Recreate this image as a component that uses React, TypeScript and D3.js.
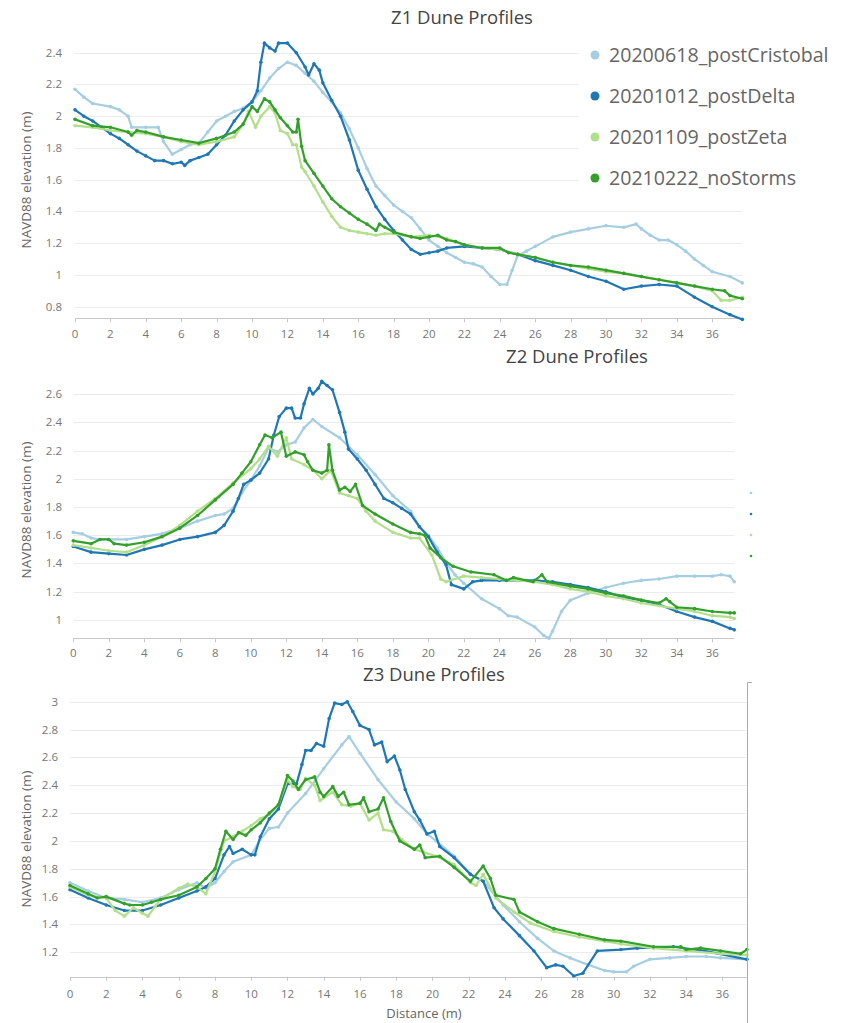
import React, { useRef, useEffect } from 'react';
import * as d3 from 'd3';

type Pt = [number, number];

const seriesNames = ['20200618_postCristobal', '20201012_postDelta', '20201109_postZeta', '20210222_noStorms'];
const seriesColors = ['#a6cee3', '#1f78b4', '#b2df8a', '#33a02c'];
const xTicks = [0, 2, 4, 6, 8, 10, 12, 14, 16, 18, 20, 22, 24, 26, 28, 30, 32, 34, 36];
const z1YTicks = [0.8, 1, 1.2, 1.4, 1.6, 1.8, 2, 2.2, 2.4];
const z2YTicks = [1, 1.2, 1.4, 1.6, 1.8, 2, 2.2, 2.4, 2.6];
const z3YTicks = [1.2, 1.4, 1.6, 1.8, 2, 2.2, 2.4, 2.6, 2.8, 3];

// Z1
const z1Cristobal: Pt[] = [[0,2.17],[0.5,2.12],[1,2.08],[2,2.06],[2.5,2.04],[3,2.0],[3.2,1.93],[4,1.93],[4.7,1.93],[5,1.84],[5.5,1.76],[6,1.79],[6.5,1.82],[7,1.83],[7.5,1.9],[8,1.97],[8.5,2.0],[9,2.03],[9.5,2.05],[10,2.09],[10.5,2.16],[11,2.24],[11.5,2.3],[12,2.34],[12.5,2.32],[13,2.27],[13.5,2.22],[14,2.15],[14.5,2.09],[15,2.02],[15.5,1.92],[16,1.8],[16.5,1.67],[17,1.56],[17.5,1.5],[18,1.44],[18.5,1.4],[19,1.36],[19.5,1.29],[20,1.22],[20.5,1.18],[21,1.14],[21.5,1.11],[22,1.08],[22.5,1.07],[23,1.05],[23.5,0.99],[24,0.94],[24.4,0.94],[24.7,1.03],[25,1.12],[25.5,1.15],[26,1.18],[27,1.24],[28,1.27],[29,1.29],[30,1.31],[31,1.3],[31.7,1.32],[32,1.29],[32.5,1.25],[33,1.22],[33.5,1.22],[34,1.19],[34.5,1.15],[35,1.1],[35.5,1.06],[36,1.02],[37,0.99],[37.7,0.95]];
const z1Delta: Pt[] = [[0,2.04],[0.5,2.0],[1,1.97],[1.5,1.93],[2,1.89],[2.5,1.86],[3,1.82],[3.5,1.78],[4,1.75],[4.5,1.72],[5,1.72],[5.5,1.7],[6,1.71],[6.2,1.69],[6.5,1.72],[7,1.74],[7.5,1.76],[8,1.82],[8.5,1.88],[9,1.97],[9.5,2.04],[10,2.09],[10.3,2.16],[10.5,2.34],[10.7,2.46],[11,2.43],[11.3,2.41],[11.5,2.46],[12,2.46],[12.5,2.4],[13,2.31],[13.2,2.26],[13.5,2.33],[13.8,2.29],[14,2.21],[14.5,2.1],[15,2.0],[15.5,1.85],[16,1.66],[16.5,1.54],[17,1.43],[17.5,1.35],[18,1.28],[18.5,1.22],[19,1.16],[19.5,1.13],[20,1.14],[20.5,1.15],[21,1.17],[22,1.18],[23,1.17],[24,1.16],[25,1.13],[26,1.09],[27,1.06],[28,1.03],[29,0.99],[30,0.96],[31,0.91],[32,0.93],[33,0.94],[34,0.93],[35,0.86],[36,0.8],[37,0.75],[37.7,0.72]];
const z1Zeta: Pt[] = [[0,1.94],[1,1.93],[2,1.91],[3,1.9],[4,1.89],[5,1.87],[6,1.84],[7,1.82],[8,1.84],[9,1.87],[9.5,1.95],[9.8,2.03],[10.2,1.93],[10.5,2.0],[11,2.06],[11.3,2.02],[11.6,1.91],[12,1.89],[12.3,1.82],[12.5,1.82],[12.8,1.68],[13,1.65],[13.5,1.56],[14,1.46],[14.5,1.37],[15,1.3],[15.5,1.28],[16,1.27],[16.5,1.26],[17,1.25],[17.5,1.26],[18,1.26],[19,1.24],[20,1.25],[21,1.23],[22,1.19],[23,1.17],[24,1.16],[25,1.13],[26,1.11],[27,1.08],[28,1.06],[29,1.04],[30,1.02],[31,1.01],[32,0.99],[33,0.97],[34,0.95],[35,0.93],[36,0.9],[36.5,0.84],[37,0.84],[37.7,0.86]];
const z1NoStorms: Pt[] = [[0,1.98],[1,1.94],[2,1.93],[3,1.9],[3.2,1.88],[3.5,1.91],[4,1.9],[5,1.87],[6,1.85],[7,1.83],[8,1.86],[9,1.9],[9.5,1.95],[10,2.06],[10.3,2.03],[10.7,2.11],[11,2.09],[11.3,2.04],[11.6,1.99],[12,1.94],[12.3,1.9],[12.5,1.9],[12.6,1.98],[12.8,1.81],[13,1.72],[13.5,1.64],[14,1.56],[14.5,1.48],[15,1.43],[15.5,1.39],[16,1.35],[16.5,1.32],[17,1.28],[17.2,1.32],[17.5,1.3],[18,1.27],[19,1.24],[19.5,1.23],[20,1.24],[20.5,1.25],[21,1.22],[21.5,1.21],[22,1.19],[23,1.17],[24,1.17],[24.5,1.14],[25,1.13],[26,1.11],[27,1.08],[28,1.06],[29,1.05],[30,1.03],[31,1.01],[32,0.99],[33,0.97],[34,0.95],[35,0.93],[36,0.91],[36.7,0.9],[37,0.87],[37.7,0.85]];

// Z2
const z2Cristobal: Pt[] = [[0,1.62],[0.5,1.61],[1,1.58],[1.5,1.57],[2,1.57],[3,1.57],[4,1.59],[5,1.61],[6,1.65],[7,1.7],[8,1.74],[8.5,1.75],[9,1.79],[9.5,1.9],[10,1.99],[10.5,2.09],[11,2.22],[11.5,2.19],[12,2.24],[12.5,2.26],[13,2.36],[13.5,2.42],[14,2.37],[15,2.29],[16,2.17],[17,2.03],[18,1.88],[19,1.77],[19.5,1.66],[20,1.6],[20.5,1.51],[21,1.41],[21.5,1.32],[22,1.26],[23,1.15],[24,1.08],[24.5,1.03],[25,1.02],[26,0.95],[26.5,0.89],[26.8,0.87],[27,0.92],[27.5,1.06],[28,1.14],[29,1.19],[30,1.23],[31,1.26],[32,1.28],[33,1.29],[34,1.31],[35,1.31],[36,1.31],[36.5,1.32],[37,1.31],[37.24,1.27]];
const z2Delta: Pt[] = [[0,1.52],[1,1.48],[2,1.47],[3,1.46],[4,1.5],[5,1.53],[6,1.57],[7,1.59],[8,1.62],[8.5,1.67],[9,1.77],[9.3,1.86],[9.6,1.96],[10,1.99],[10.5,2.04],[11,2.14],[11.3,2.31],[11.6,2.44],[12,2.5],[12.3,2.5],[12.5,2.43],[12.8,2.43],[13,2.53],[13.3,2.64],[13.5,2.6],[13.8,2.64],[14,2.69],[14.3,2.66],[14.6,2.63],[15,2.47],[15.3,2.33],[15.5,2.21],[16,2.14],[16.5,2.06],[17,1.96],[17.5,1.86],[18,1.83],[18.5,1.79],[19,1.75],[19.5,1.66],[20,1.59],[20.5,1.48],[21,1.39],[21.3,1.25],[22,1.22],[22.5,1.27],[23,1.28],[24,1.28],[25,1.28],[26,1.28],[27,1.27],[28,1.25],[29,1.23],[30,1.2],[31,1.16],[32,1.14],[33,1.11],[34,1.06],[35,1.02],[36,0.99],[37,0.94],[37.24,0.93]];
const z2Zeta: Pt[] = [[0,1.53],[1,1.51],[2,1.49],[3,1.48],[4,1.53],[5,1.59],[6,1.67],[7,1.77],[8,1.86],[9,1.97],[10,2.07],[10.5,2.14],[11,2.23],[11.5,2.16],[12,2.29],[12.3,2.14],[13,2.1],[13.5,2.06],[14,2.0],[14.5,2.06],[15,1.9],[15.5,1.88],[16,1.86],[16.5,1.77],[17,1.7],[18,1.62],[19,1.58],[19.5,1.58],[20.2,1.46],[20.7,1.29],[21,1.27],[22,1.31],[23,1.3],[24,1.29],[25,1.28],[26,1.27],[27,1.25],[28,1.22],[29,1.2],[30,1.17],[31,1.15],[32,1.12],[33,1.1],[34,1.08],[35,1.06],[36,1.03],[37,1.02],[37.24,1.01]];
const z2NoStorms: Pt[] = [[0,1.56],[1,1.54],[1.5,1.57],[2,1.57],[2.3,1.54],[3,1.53],[4,1.55],[5,1.59],[6,1.65],[7,1.74],[8,1.85],[9,1.96],[9.5,2.04],[10,2.12],[10.5,2.24],[10.8,2.31],[11.2,2.29],[11.7,2.33],[12,2.16],[12.5,2.19],[13,2.17],[13.2,2.12],[13.5,2.06],[14,2.04],[14.3,2.06],[14.4,2.24],[14.6,2.06],[15,1.92],[15.3,1.94],[15.6,1.91],[15.9,1.96],[16.3,1.81],[17,1.75],[18,1.68],[19,1.62],[19.5,1.61],[19.8,1.6],[20.1,1.51],[20.7,1.44],[21.4,1.38],[22.4,1.34],[23.7,1.32],[24.4,1.28],[24.8,1.3],[25.9,1.27],[26.4,1.32],[26.7,1.27],[28,1.24],[29,1.22],[30,1.19],[31,1.17],[32,1.14],[33,1.12],[33.4,1.15],[33.6,1.13],[34,1.09],[35,1.08],[36,1.06],[37,1.05],[37.24,1.05]];

// Z3
const z3Cristobal: Pt[] = [[0,1.7],[1,1.64],[2,1.59],[3,1.58],[4,1.56],[5,1.59],[6,1.65],[7,1.7],[7.5,1.66],[8,1.7],[8.5,1.78],[9,1.85],[10,1.9],[10.5,2.01],[11,2.09],[11.5,2.1],[12,2.2],[13,2.34],[14,2.52],[15,2.69],[15.4,2.75],[16,2.63],[17,2.44],[18,2.28],[19,2.16],[19.7,2.05],[20.2,2.0],[21.2,1.89],[22.1,1.76],[22.8,1.71],[23.9,1.54],[24.8,1.42],[25.8,1.3],[26.7,1.21],[27.6,1.16],[28.6,1.11],[29.5,1.07],[30,1.06],[30.7,1.06],[31.1,1.1],[32,1.15],[33.1,1.16],[34,1.17],[35.1,1.17],[35.9,1.16],[37.35,1.15]];
const z3Delta: Pt[] = [[0,1.65],[1,1.59],[2,1.54],[3,1.5],[4,1.5],[5,1.54],[6,1.59],[7,1.64],[7.5,1.67],[8,1.73],[8.5,1.9],[8.8,1.96],[9,1.91],[9.5,1.94],[10,1.9],[10.2,1.9],[10.5,2.03],[11,2.16],[11.5,2.23],[12,2.41],[12.5,2.41],[12.8,2.55],[13,2.65],[13.3,2.65],[13.6,2.7],[14,2.68],[14.3,2.88],[14.6,2.99],[15,2.98],[15.3,3.0],[15.6,2.93],[16,2.83],[16.5,2.8],[16.8,2.69],[17.2,2.71],[17.5,2.57],[17.9,2.61],[18.2,2.51],[18.5,2.37],[19,2.21],[19.3,2.15],[19.7,2.05],[20.1,2.07],[20.4,1.96],[21.2,1.88],[22.1,1.76],[22.8,1.71],[23.4,1.52],[23.9,1.44],[24.8,1.32],[25.6,1.21],[26.3,1.09],[26.8,1.11],[27.2,1.1],[27.8,1.03],[28.3,1.05],[29.1,1.21],[30.4,1.22],[31.3,1.23],[33.3,1.24],[35,1.21],[37.35,1.15]];
const z3Zeta: Pt[] = [[0,1.67],[1,1.61],[2,1.59],[2.5,1.5],[3,1.46],[3.5,1.52],[4,1.48],[4.3,1.46],[4.7,1.53],[5,1.58],[6,1.66],[6.5,1.69],[7,1.67],[7.5,1.62],[8,1.78],[8.5,2.0],[9,2.03],[9.5,2.07],[10,2.11],[10.5,2.16],[11,2.19],[11.5,2.26],[12,2.44],[12.3,2.39],[12.7,2.37],[13,2.45],[13.5,2.4],[13.8,2.29],[14,2.31],[14.5,2.35],[15,2.26],[15.5,2.25],[16,2.27],[16.5,2.15],[17,2.2],[17.3,2.08],[17.8,2.07],[18.3,2.01],[19,1.94],[19.5,1.92],[20.2,1.89],[21.2,1.83],[22.1,1.7],[22.4,1.68],[22.8,1.76],[23.5,1.59],[24.5,1.49],[25.4,1.41],[26.7,1.35],[28.1,1.31],[29.5,1.28],[30.4,1.26],[32.2,1.23],[34,1.21],[35.9,1.19],[37.35,1.18]];
const z3NoStorms: Pt[] = [[0,1.68],[1,1.62],[1.5,1.59],[2,1.6],[3,1.55],[3.3,1.54],[4,1.54],[4.5,1.56],[5,1.58],[6,1.61],[7,1.67],[7.5,1.73],[8,1.8],[8.3,1.94],[8.6,2.07],[9,2.01],[9.3,2.06],[9.7,2.04],[10,2.08],[10.5,2.13],[11,2.2],[11.5,2.26],[12,2.47],[12.3,2.43],[12.6,2.37],[13,2.44],[13.5,2.46],[13.8,2.35],[14,2.32],[14.5,2.39],[14.8,2.32],[15.1,2.35],[15.4,2.26],[16,2.27],[16.2,2.31],[16.5,2.21],[17,2.23],[17.3,2.31],[17.7,2.14],[18.2,2.0],[19,1.94],[19.3,1.97],[19.6,1.88],[20.4,1.89],[21.2,1.81],[22.1,1.71],[22.8,1.82],[23.2,1.73],[23.5,1.61],[24.5,1.58],[24.8,1.49],[25.8,1.42],[26.7,1.37],[28.1,1.33],[29.5,1.29],[30.4,1.28],[32.2,1.24],[33.7,1.24],[34,1.22],[34.8,1.23],[35.9,1.21],[37,1.19],[37.35,1.22]];

const panels = [
  { title: 'Z1 Dune Profiles', series: [z1Cristobal, z1Delta, z1Zeta, z1NoStorms], yTicks: z1YTicks },
  { title: 'Z2 Dune Profiles', series: [z2Cristobal, z2Delta, z2Zeta, z2NoStorms], yTicks: z2YTicks },
  { title: 'Z3 Dune Profiles', series: [z3Cristobal, z3Delta, z3Zeta, z3NoStorms], yTicks: z3YTicks },
];

// pixel layout of each of the 3 stacked screenshots
const layout = [
  { x0: 75, x1: 742.7, xMax: 37.72, yTop: 36.8, yBot: 318.3, yMin: 0.727, yMax: 2.5, titleX: 462, titleY: 24, tickY: 338, labelRight: 62, yLabelY: 180 },
  { x0: 73.3, x1: 734.3, xMax: 37.24, yTop: 379.9, yBot: 638.3, yMin: 0.87, yMax: 2.7, titleX: 577, titleY: 363, tickY: 657, labelRight: 62, yLabelY: 510 },
  { x0: 70, x1: 746.7, xMax: 37.34, yTop: 687.8, yBot: 976.7, yMin: 1.025, yMax: 3.1, titleX: 434, titleY: 681, tickY: 998, labelRight: 58, yLabelY: 839 },
];

const FONT = '"Open Sans", "Noto Sans", sans-serif';

const DuneProfiles = () => {
  const ref = useRef<SVGSVGElement>(null);

  useEffect(() => {
    const svg = d3.select(ref.current);
    svg.selectAll('*').remove();
    svg.append('rect').attr('width', 849).attr('height', 1023).attr('fill', '#fff');

    panels.forEach((p, pi) => {
      const L = layout[pi];
      const x = d3.scaleLinear().domain([0, L.xMax]).range([L.x0, L.x1]);
      const y = d3.scaleLinear().domain([L.yMin, L.yMax]).range([L.yBot, L.yTop]);
      const g = svg.append('g');

      g.append('text')
        .attr('x', L.titleX).attr('y', L.titleY)
        .attr('text-anchor', 'middle')
        .style('font-family', FONT).style('font-size', '18.5px').style('fill', '#444')
        .text(p.title);

      // gridlines
      g.append('g').selectAll('line').data(p.yTicks).join('line')
        .attr('x1', L.x0).attr('x2', L.x1)
        .attr('y1', (d) => Math.round(y(d)) + 0.5).attr('y2', (d) => Math.round(y(d)) + 0.5)
        .attr('stroke', '#ececec');

      g.append('g').selectAll('text').data(p.yTicks).join('text')
        .attr('x', L.labelRight).attr('y', (d) => y(d) + 4)
        .attr('text-anchor', 'end')
        .style('font-family', FONT).style('font-size', '11.5px').style('fill', '#777')
        .text((d) => String(+d.toFixed(1)));

      // x axis
      g.append('line')
        .attr('x1', L.x0).attr('x2', L.x1)
        .attr('y1', Math.round(L.yBot) + 0.5).attr('y2', Math.round(L.yBot) + 0.5)
        .attr('stroke', '#c8c8c8');
      g.append('g').selectAll('line').data(xTicks).join('line')
        .attr('x1', (d) => Math.round(x(d)) + 0.5).attr('x2', (d) => Math.round(x(d)) + 0.5)
        .attr('y1', L.yBot).attr('y2', L.yBot + 4)
        .attr('stroke', '#c8c8c8');
      g.append('g').selectAll('text').data(xTicks).join('text')
        .attr('x', (d) => x(d)).attr('y', L.tickY)
        .attr('text-anchor', 'middle')
        .style('font-family', FONT).style('font-size', '11.5px').style('fill', '#777')
        .text((d) => d);

      g.append('text')
        .attr('transform', `translate(31,${L.yLabelY}) rotate(-90)`)
        .attr('text-anchor', 'middle')
        .style('font-family', FONT).style('font-size', '13.5px').style('fill', '#666')
        .text('NAVD88 elevation (m)');

      const line = d3.line<Pt>().x((d) => x(d[0])).y((d) => y(d[1]));
      p.series.forEach((s, si) => {
        g.append('path').datum(s)
          .attr('d', line)
          .attr('fill', 'none')
          .attr('stroke', seriesColors[si])
          .attr('stroke-width', 2.2)
          .attr('stroke-linejoin', 'round');
        g.append('g').selectAll('circle').data(s).join('circle')
          .attr('cx', (d) => x(d[0])).attr('cy', (d) => y(d[1]))
          .attr('r', 1.8)
          .attr('fill', seriesColors[si]);
      });
    });

    // Z1 legend
    const leg = svg.append('g');
    leg.append('rect').attr('x', 579).attr('y', 34).attr('width', 270).attr('height', 162).attr('fill', '#fff');
    seriesNames.forEach((name, i) => {
      const cy = 55 + i * 41;
      leg.append('circle').attr('cx', 595).attr('cy', cy).attr('r', 4.5).attr('fill', seriesColors[i]);
      leg.append('text')
        .attr('x', 609).attr('y', cy + 7)
        .style('font-family', FONT).style('font-size', '19.6px').style('fill', '#666')
        .text(name);
    });

    // cut-off legend markers at right of Z2
    seriesColors.forEach((c, i) => {
      svg.append('circle').attr('cx', 751).attr('cy', 493 + i * 21).attr('r', 1.3).attr('fill', c);
    });

    // edge line at the right of Z3
    svg.append('path')
      .attr('d', 'M747.5,1023 V682.5 H752')
      .attr('fill', 'none').attr('stroke', '#aaa');

    svg.append('text')
      .attr('x', 424).attr('y', 1018)
      .attr('text-anchor', 'middle')
      .style('font-family', FONT).style('font-size', '13px').style('fill', '#666')
      .text('Distance (m)');
  }, []);

  return (
    <div style={{ position: 'absolute', left: 0, top: 0 }}>
      <svg ref={ref} width={849} height={1023} style={{ display: 'block' }}></svg>
    </div>
  );
};

export default function App() {
  return <DuneProfiles />;
}
